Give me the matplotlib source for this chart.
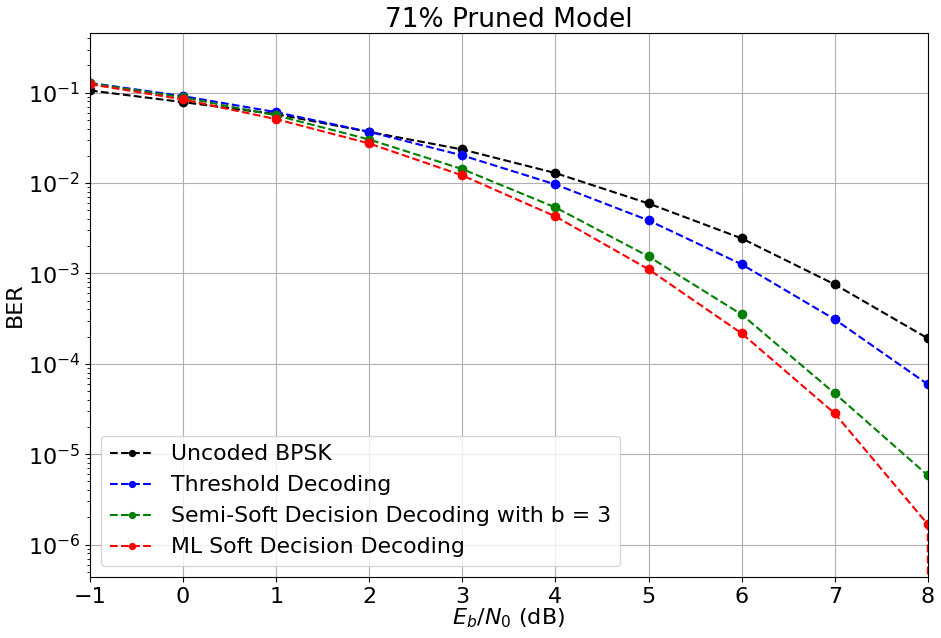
import matplotlib
matplotlib.use("Agg")
import matplotlib.pyplot as plt

ebn0 = [-1, 0, 1, 2, 3, 4, 5, 6, 7, 8]
ebn0_ml = [-1, 0, 1, 2, 3, 4, 5, 6, 7, 8, 9]

uncoded = [0.1057, 0.0785, 0.0578, 0.0368, 0.0235, 0.01288, 0.00594, 0.00244, 7.55e-4, 1.91e-4]
threshold = [0.128, 0.0915, 0.0608, 0.0368, 0.0202, 0.00964, 0.00386, 0.00126, 3.10e-4, 5.92e-5]
semisoft = [0.127, 0.0885, 0.0560, 0.0303, 0.01425, 0.00537, 0.00154, 3.51e-4, 4.70e-5, 5.82e-6]
ml_soft = [0.124, 0.0841, 0.0509, 0.0274, 0.01213, 0.00427, 0.00111, 2.17e-4, 2.82e-5, 1.67e-6, 0.0]

labels = ["Uncoded BPSK", "Threshold Decoding",
          "Semi-Soft Decision Decoding with b = 3", "ML Soft Decision Decoding"]
colors = ["black", "blue", "green", "red"]

fig = plt.figure(figsize=(9.41, 6.38), dpi=100)
ax = fig.add_axes([0.0956, 0.0956, 0.8904, 0.8524])

ax.plot(ebn0, uncoded, "--o", color=colors[0], label=labels[0], markersize=6)
ax.plot(ebn0, threshold, "--o", color=colors[1], label=labels[1], markersize=6)
ax.plot(ebn0, semisoft, "--o", color=colors[2], label=labels[2], markersize=6)
ax.plot(ebn0_ml, ml_soft, "--o", color=colors[3], label=labels[3], markersize=6)

ax.set_yscale("log")
ax.set_xlim(-1, 8)
ax.set_ylim(4.37e-7, 0.455)
ax.set_xticks(range(-1, 9))
ax.grid(True, which="major", color="#b0b0b0", linewidth=0.8)
ax.tick_params(axis="both", which="major", labelsize=16)
ax.set_xlabel(r"$E_b/N_0$ (dB)", fontsize=16, labelpad=0)
ax.set_ylabel("BER", fontsize=16, labelpad=2)
ax.set_title("71% Pruned Model", fontsize=19, pad=4)
ax.legend(loc="lower left", fontsize=15.8, markerscale=0.7)

fig.savefig("out.png", dpi=100)
